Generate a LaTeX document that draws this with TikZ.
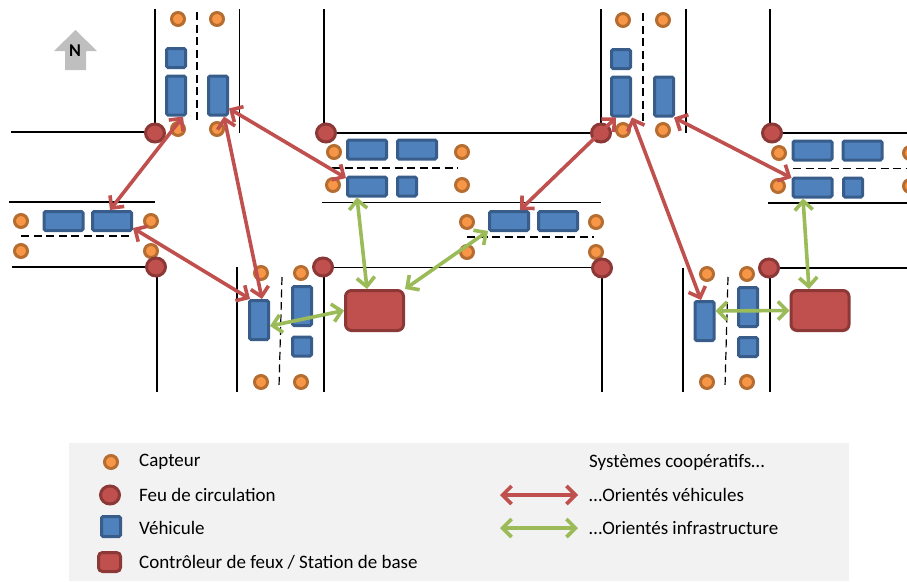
\documentclass[tikz,border=0pt]{standalone}
\usepackage{fontspec}
\setmainfont{Carlito}
\usetikzlibrary{arrows.meta,shapes.geometric}
\definecolor{bleu}{HTML}{4F81BD}
\definecolor{bleuF}{HTML}{385D8A}
\definecolor{rouge}{HTML}{C0504D}
\definecolor{rougeF}{HTML}{8C3836}
\definecolor{orange}{HTML}{F79646}
\definecolor{orangeF}{HTML}{B66D31}
\definecolor{vert}{HTML}{9BBB59}
\begin{document}
\begin{tikzpicture}[x=1pt,y=-1pt]
\tikzset{
    route/.style={draw=black, line width=1.2pt},
    axe/.style={draw=black, line width=1.2pt, dash pattern=on 8pt off 4.5pt},
    capteur/.style={circle, draw=orangeF, fill=orange, line width=3pt, minimum size=13pt, inner sep=0pt},
    feu/.style={ellipse, draw=rougeF, fill=rouge, line width=3pt, minimum width=19pt, minimum height=18pt, inner sep=0pt},
    vehicule/.style={rectangle, draw=bleuF, fill=bleu, line width=3pt, rounded corners=1.5pt, inner sep=0pt},
    vehH/.style={vehicule, minimum width=39pt, minimum height=19pt},
    vehV/.style={vehicule, minimum width=19pt, minimum height=39pt},
    vehC/.style={vehicule, minimum width=19pt, minimum height=19pt},
    controleur/.style={rectangle, draw=rougeF, fill=rouge, line width=3pt, rounded corners=6pt, minimum width=58pt, minimum height=40pt, inner sep=0pt},
    liaisonV/.style={draw=rouge, line width=3.6pt, <->, >={Straight Barb[length=9pt,width=18pt]}},
    liaisonI/.style={draw=vert, line width=3.6pt, <->, >={Straight Barb[length=9pt,width=18pt]}},
    legende/.style={anchor=west, inner sep=0pt, font=\fontsize{19}{22}\selectfont}
}
\useasboundingbox (0,0) rectangle (907,581);
% fond de la legende
\fill[fill=black!5] (69,443) rectangle (849,581);
% routes, partie gauche
\draw[route] (155,9) -- (155,133);
\draw[route] (239.5,9) -- (239.5,133);
\draw[route] (324,9) -- (324,133);
\draw[route] (11,132) -- (155,132);
\draw[route] (325,133) -- (601,133);
\draw[route] (9,202) -- (155,202);
\draw[route] (322,202.5) -- (601,202.5);
\draw[route] (12,267) -- (155,267);
\draw[route] (323,267.5) -- (602,267.5);
\draw[route] (157,267) -- (157,392);
\draw[route] (237,267) -- (237,392);
\draw[route] (324,267) -- (324,392);
\draw[axe] (197,12) -- (197,124);
\draw[axe] (21,236) -- (133,236);
\draw[axe] (332,168) -- (458,168);
\draw[axe] (282,277) -- (279,387);
% routes, partie droite
\draw[route] (601,9) -- (601,133);
\draw[route] (686,9) -- (686,133);
\draw[route] (770,9) -- (770,133);
\draw[route] (772,133) -- (907,133);
\draw[route] (768,203) -- (907,203);
\draw[route] (773,268) -- (907,268);
\draw[route] (602,268) -- (602,392);
\draw[route] (683,268) -- (683,392);
\draw[route] (770,268) -- (770,392);
\draw[axe] (643,13) -- (643,124);
\draw[axe] (467,237) -- (594,237);
\draw[axe] (793,168.5) -- (907,168.5);
\draw[axe] (728,277) -- (725,387);
% capteurs
\node[capteur] (c1) at (178,19) {};
\node[capteur] (c2) at (217,19) {};
\node[capteur] (c3) at (178,129) {};
\node[capteur] (c4) at (217,129) {};
\node[capteur] (c5) at (334,152) {};
\node[capteur] (c6) at (333,185) {};
\node[capteur] (c7) at (21,221) {};
\node[capteur] (c8) at (151,221) {};
\node[capteur] (c9) at (21,251) {};
\node[capteur] (c10) at (151,251) {};
\node[capteur] (c11) at (261,273) {};
\node[capteur] (c12) at (301,273) {};
\node[capteur] (c13) at (261,382) {};
\node[capteur] (c14) at (301,382) {};
\node[capteur] (c15) at (462,152) {};
\node[capteur] (c16) at (462,185) {};
\node[capteur] (c17) at (623,20) {};
\node[capteur] (c18) at (663,20) {};
\node[capteur] (c19) at (623,130) {};
\node[capteur] (c20) at (663,130) {};
\node[capteur] (c21) at (779,153) {};
\node[capteur] (c22) at (778,186) {};
\node[capteur] (c23) at (467,222) {};
\node[capteur] (c24) at (596,222) {};
\node[capteur] (c25) at (467,252) {};
\node[capteur] (c26) at (596,252) {};
\node[capteur] (c27) at (707,274) {};
\node[capteur] (c28) at (747,274) {};
\node[capteur] (c29) at (707,382) {};
\node[capteur] (c30) at (747,382) {};
\node[capteur] (c31) at (910,153) {};
\node[capteur] (c32) at (910,186) {};
% feux
\node[feu] (f1) at (155,133) {};
\node[feu] (f2) at (326,133) {};
\node[feu] (f3) at (156,267) {};
\node[feu] (f4) at (323,267) {};
\node[feu] (f5) at (601,133) {};
\node[feu] (f6) at (772,133) {};
\node[feu] (f7) at (602,268) {};
\node[feu] (f8) at (769,268) {};
% vehicules
\node[vehC] (vA) at (176,58) {};
\node[vehV] (vB) at (176,95.5) {};
\node[vehV] (vC) at (218,95.5) {};
\node[vehH] (vD) at (367,149.5) {};
\node[vehH] (vE) at (417,149.5) {};
\node[vehH] (vF) at (367,186.5) {};
\node[vehC] (vG) at (407,186.5) {};
\node[vehH] (vH) at (63.5,221) {};
\node[vehH] (vI) at (112,221) {};
\node[vehV] (vJ) at (259,320) {};
\node[vehV] (vK) at (302,306) {};
\node[vehC] (vL) at (302,346.5) {};
\node[vehC] (vM) at (621,59) {};
\node[vehV] (vN) at (621,96.5) {};
\node[vehV] (vO) at (664,96.5) {};
\node[vehH] (vP) at (812.5,150.5) {};
\node[vehH] (vQ) at (862.5,150.5) {};
\node[vehH] (vR) at (812.5,187.5) {};
\node[vehC] (vS) at (853,187.5) {};
\node[vehH] (vT) at (509,221) {};
\node[vehH] (vU) at (558,221) {};
\node[vehV] (vV) at (704.5,321) {};
\node[vehV] (vW) at (748,307) {};
\node[vehC] (vX) at (748,347) {};
% controleurs
\node[controleur] (ctrlA) at (374.5,310.5) {};
\node[controleur] (ctrlB) at (820,310.5) {};
% liaisons
\draw[liaisonV] ([xshift=7pt]vB.south) -- ([xshift=-2pt]vI.north);
\draw[liaisonV] ([yshift=-13pt]vC.east) -- ([yshift=8.5pt]vF.west);
\draw[liaisonV] ([xshift=6pt]vC.south) -- ([xshift=3pt]vJ.north);
\draw[liaisonV] ([yshift=-7pt]vI.east) -- ([xshift=-9pt]vJ.north);
\draw[liaisonV] ([xshift=-5pt]vN.south) -- ([xshift=11pt]vT.north);
\draw[liaisonV] ([xshift=10pt]vO.south) -- ([yshift=9.5pt]vR.west);
\draw[liaisonV] (vN.south east) -- ([xshift=-3.5pt]vV.north);
\draw[liaisonI] ([xshift=-10pt]vF.south) -- ([xshift=-7.5pt]ctrlA.north);
\draw[liaisonI] ([yshift=-6pt]vJ.east) -- (ctrlA.west);
\draw[liaisonI] (ctrlA.north east) -- ([yshift=-10pt]vT.west);
\draw[liaisonI] ([xshift=-9.5pt]vR.south) -- ([xshift=-11pt]ctrlB.north);
\draw[liaisonI] ([yshift=10pt]vV.east) -- (ctrlB.west);
% nord
\fill[fill=black!25] (75.5,30) -- (97,51) -- (86,51) -- (86,70) -- (65,70) -- (65,51) -- (54,51) -- cycle;
\node[inner sep=0pt, font=\fontsize{18}{20}\selectfont\bfseries] (nord) at (75,51) {N};
% legende
\node[capteur] (lgCapteur) at (111,462) {};
\node[feu] (lgFeu) at (110,495) {};
\node[vehicule, minimum width=19pt, minimum height=20pt] (lgVeh) at (111,526.5) {};
\node[controleur, minimum width=22pt, minimum height=19pt, rounded corners=4pt] (lgCtrl) at (109.5,562) {};
\node[legende] (txCapteur) at (139,462) {Capteur};
\node[legende] (txFeu) at (139,494.5) {Feu de circulation};
\node[legende] (txVeh) at (139,527.5) {Véhicule};
\node[legende] (txCtrl) at (139,562) {Contrôleur de feux / Station de base};
\node[legende] (txSys) at (589,462) {Systèmes coopératifs…};
\node[legende] (txOrV) at (589,494.5) {…Orientés véhicules};
\node[legende] (txOrI) at (589,528) {…Orientés infrastructure};
\coordinate (lgV) at (500,495);
\coordinate (lgI) at (500,528);
\draw[liaisonV] (lgV) -- ([xshift=-11pt]lgV -| txOrV.west);
\draw[liaisonI] (lgI) -- ([xshift=-11pt]lgI -| txOrI.west);
\end{tikzpicture}
\end{document}
